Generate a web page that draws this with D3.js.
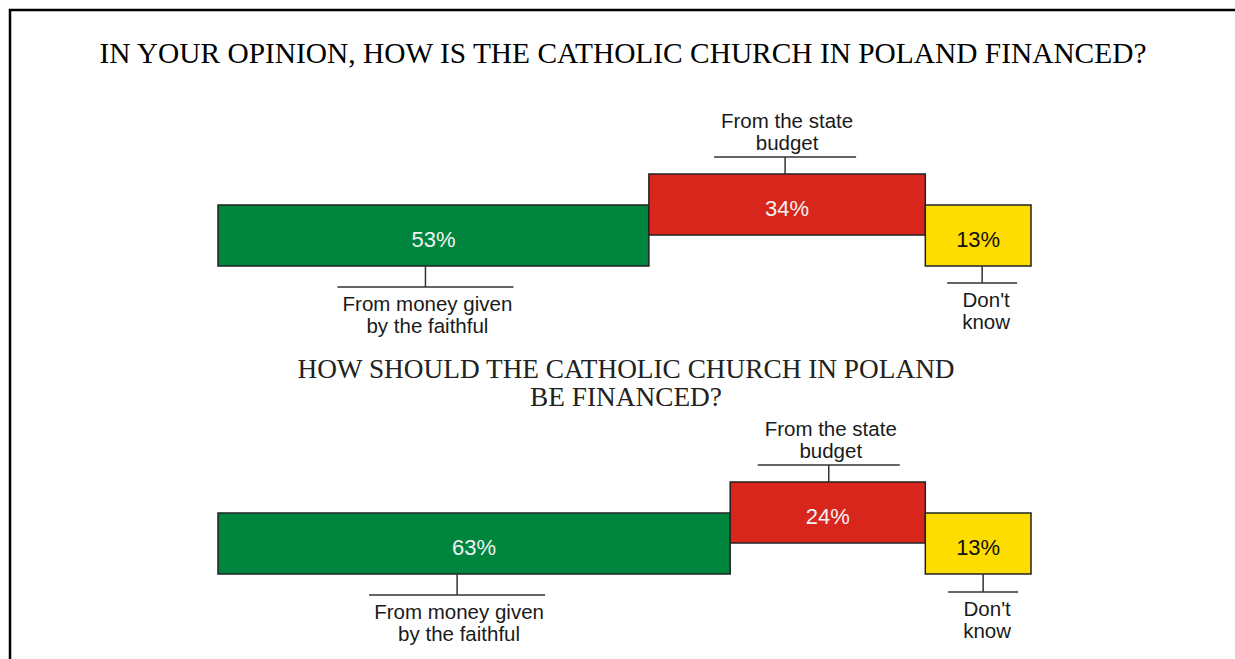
<!DOCTYPE html>
<html>
<head>
<meta charset="utf-8">
<script src="https://cdn.jsdelivr.net/npm/d3@7/dist/d3.min.js"></script>
<style>
  body { margin: 0; background: #fff; }
  svg { display: block; }
</style>
</head>
<body>
<div id="chart"></div>
<script>
// data
var categories = ["From money given by the faithful", "From the state budget", "Don't know"];
var labelLines = [["From money given", "by the faithful"], ["From the state", "budget"], ["Don't", "know"]];
var actualValues = [53, 34, 13];   // how is it financed
var desiredValues = [63, 24, 13];  // how should it be financed
var panelTitles = [
  ["IN YOUR OPINION, HOW IS THE CATHOLIC CHURCH IN POLAND FINANCED?"],
  ["HOW SHOULD THE CATHOLIC CHURCH IN POLAND", "BE FINANCED?"]
];

(function(){
    var width = 1235;
    var height = 659;
    var colors = ["#00853f", "#d9261c", "#fddc00"];
    var textColors = ["#f2f2f2", "#f2f2f2", "#111"];

    var svg = d3.select("#chart")
        .append("svg")
        .attr("width", width)
        .attr("height", height);

    // frame (top and left edges show in the picture)
    svg.append("path")
        .attr("d", "M10,659 V10 H1235")
        .attr("fill", "none")
        .attr("stroke", "#000")
        .attr("stroke-width", 2.5);

    var x = d3.scaleLinear().domain([0, 100]).range([218, 1031]);

    var panels = [
        { values: actualValues, top: 205, titleX: 623, titleY: [63], titleSize: 29.4, color: "#000",
          offsets: [-8, -2, 4], labelBelow: [21, 0, 17] },
        { values: desiredValues, top: 513, titleX: 626, titleY: [378, 406], titleSize: 27.3, color: "#222",
          offsets: [-17, 1, 5], labelBelow: [21, 0, 18] }
    ];

    var barH = 61;
    var raise = 31;

    panels.forEach(function(p, pi){
        var g = svg.append("g");

        g.selectAll(".title")
            .data(panelTitles[pi])
            .enter().append("text")
            .attr("x", p.titleX)
            .attr("y", function(d, i){ return p.titleY[i]; })
            .attr("text-anchor", "middle")
            .attr("font-family", "'Liberation Serif', 'Times New Roman', serif")
            .attr("font-size", p.titleSize + "px")
            .attr("fill", p.color)
            .text(function(d){ return d; });

        var segs = [];
        var acc = 0;
        p.values.forEach(function(v, i){
            segs.push({ i: i, x0: acc, x1: acc + v, v: v });
            acc += v;
        });

        function yTop(d){ return d.i === 1 ? p.top - raise : p.top; }

        g.selectAll(".seg")
            .data(segs)
            .enter().append("rect")
            .attr("class", "seg")
            .attr("x", function(d){ return x(d.x0); })
            .attr("y", yTop)
            .attr("width", function(d){ return x(d.x1) - x(d.x0); })
            .attr("height", barH)
            .attr("fill", function(d){ return colors[d.i]; })
            .attr("stroke", "#222")
            .attr("stroke-width", 1.5);

        g.selectAll(".pct")
            .data(segs)
            .enter().append("text")
            .attr("x", function(d){ return (x(d.x0) + x(d.x1)) / 2; })
            .attr("y", function(d){ return yTop(d) + barH / 2 + 11; })
            .attr("text-anchor", "middle")
            .attr("font-family", "'Liberation Sans', Arial, sans-serif")
            .attr("font-size", "22px")
            .attr("fill", function(d){ return textColors[d.i]; })
            .text(function(d){ return d.v + "%"; });

        // leader lines + category labels
        var halfW = [88, 71, 35];
        segs.forEach(function(d){
            var cx = (x(d.x0) + x(d.x1)) / 2 + p.offsets[d.i];
            var lg = g.append("g");
            var lineY, y0, lines = labelLines[d.i];
            if (d.i === 1) {
                y0 = yTop(d);
                lineY = y0 - 17;
            } else {
                y0 = yTop(d) + barH;
                lineY = y0 + p.labelBelow[d.i];
            }
            lg.append("line")
                .attr("x1", cx).attr("x2", cx)
                .attr("y1", y0).attr("y2", lineY)
                .attr("stroke", "#333").attr("stroke-width", 1.5);
            lg.append("line")
                .attr("x1", cx - halfW[d.i]).attr("x2", cx + halfW[d.i])
                .attr("y1", lineY).attr("y2", lineY)
                .attr("stroke", "#333").attr("stroke-width", 1.5);
            lg.selectAll("text")
                .data(lines)
                .enter().append("text")
                .attr("x", cx + (d.i === 2 ? 4 : 2))
                .attr("y", function(t, k){
                    if (d.i === 1) return lineY - 7 - (lines.length - 1 - k) * 22;
                    return lineY + 24 + k * 22;
                })
                .attr("text-anchor", "middle")
                .attr("font-family", "'Liberation Sans', Arial, sans-serif")
                .attr("font-size", "20.5px")
                .attr("fill", "#1a1a1a")
                .text(function(t){ return t; });
        });
    });
})();
</script>
</body>
</html>
